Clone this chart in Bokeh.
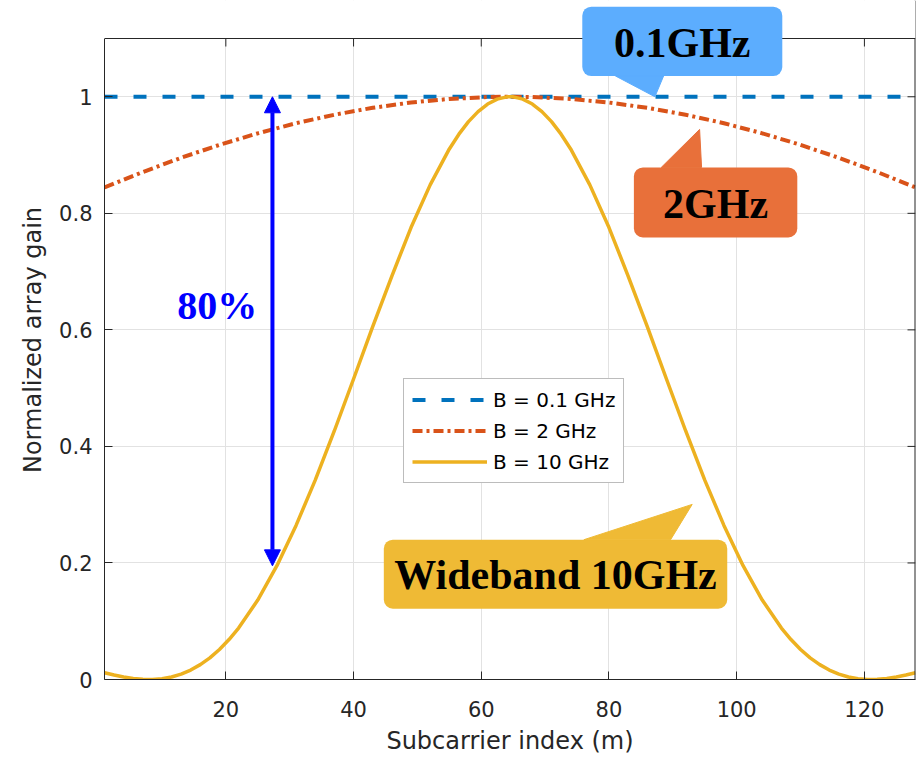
from bokeh.plotting import figure
from bokeh.models import (Range1d, FixedTicker, BoxAnnotation, PolyAnnotation,
                          Label, Arrow, NormalHead, Span)
from bokeh.embed import file_html
from bokeh.resources import INLINE

# ---------------- data ----------------
x_ticks = [20, 40, 60, 80, 100, 120]
y_ticks = [0, 0.2, 0.4, 0.6, 0.8, 1.0]
x_min, x_max = 1, 128
y_min, y_max = 0, 1.1

# B = 0.1 GHz
m_01 = [1, 128]
g_01 = [1.0, 1.0]

# B = 2 GHz
m_2 = [1, 7, 13, 19, 25, 31, 37, 43, 49, 55, 61, 64,
       65, 68, 74, 80, 86, 92, 98, 104, 110, 116, 122, 128]
g_2 = [0.8444, 0.8709, 0.8953, 0.9175, 0.9373, 0.9546, 0.9692, 0.9811, 0.9901, 0.9963, 0.9995, 1.0000,
       1.0000, 0.9995, 0.9963, 0.9901, 0.9811, 0.9692, 0.9546, 0.9373, 0.9175, 0.8953, 0.8709, 0.8444]

# B = 10 GHz
m_10 = [1, 2.5, 4, 5.5, 7, 8.5, 10, 11.5, 13, 14.5, 16, 17.5, 19, 20.5, 22,
        25, 28, 31, 34, 37, 40, 43, 46, 49, 52, 55,
        56.5, 58, 59.5, 61, 62.5, 64,
        65, 66.5, 68, 69.5, 71, 72.5, 74,
        77, 80, 83, 86, 89, 92, 95, 98, 101, 104,
        107, 108.5, 110, 111.5, 113, 114.5, 116, 117.5, 119, 120.5, 122, 123.5, 125, 126.5, 128]
g_10 = [0.0116, 0.0076, 0.0043, 0.0018, 0.0003, 0.0001, 0.0013, 0.0043, 0.0092, 0.0162, 0.0255,
        0.0372, 0.0515, 0.0685, 0.0883,
        0.1363, 0.1953, 0.2644, 0.3422, 0.4269, 0.5157, 0.6056, 0.6924, 0.7756, 0.8488, 0.9105,
        0.9358, 0.9573, 0.9745, 0.9875, 0.9959, 0.9999,
        0.9999, 0.9959, 0.9875, 0.9745, 0.9573, 0.9358, 0.9105,
        0.8488, 0.7756, 0.6924, 0.6056, 0.5157, 0.4269, 0.3422, 0.2644, 0.1953, 0.1363,
        0.0883, 0.0685, 0.0515, 0.0372, 0.0255, 0.0162, 0.0092, 0.0043, 0.0013, 0.0001, 0.0003,
        0.0018, 0.0043, 0.0076, 0.0116]

series_labels = ["B = 0.1 GHz", "B = 2 GHz", "B = 10 GHz"]

# 80% gap marker (subcarrier index, gain from / to)
gap_m = 27.3
gap_low = 0.195
gap_high = 1.0

# ---------------- layout constants ----------------
AX = "#262626"
SANS = "DejaVu Sans"
SERIF = "Liberation Serif"
FRAME_W, FRAME_H = 811, 641          # pixel size of the axes box (0..1.1)
PX_X = (x_max - x_min) / FRAME_W     # data units per pixel
PX_Y = (y_max - y_min) / FRAME_H
TOP_PAD_PX = 38                       # room above the axes box for the callout
TICK_PX = 8

p = figure(width=921, height=757, output_backend="svg", toolbar_location=None,
           x_range=Range1d(x_min, x_max),
           y_range=Range1d(y_min, y_max + TOP_PAD_PX * PX_Y),
           min_border_left=104, min_border_right=6, min_border_top=0, min_border_bottom=78,
           background_fill_color="white", border_fill_color="white")
p.outline_line_color = None

xt = FixedTicker(ticks=x_ticks)
yt = FixedTicker(ticks=y_ticks)
p.xaxis.ticker = xt
p.yaxis.ticker = yt
p.xgrid.ticker = xt
p.ygrid.ticker = yt
for g in (p.xgrid, p.ygrid):
    g.grid_line_color = "#e2e2e2"
    g.grid_line_width = 1

p.xaxis.axis_label = "Subcarrier index (m)"
p.yaxis.axis_label = "Normalized array gain"
p.yaxis.major_label_overrides = {0: "0", 1.0: "1"}
p.yaxis.bounds = (y_min, y_max)
for ax in (p.xaxis[0], p.yaxis[0]):
    ax.axis_line_color = AX
    ax.major_tick_line_color = AX
    ax.minor_tick_line_color = None
    ax.major_tick_in = TICK_PX
    ax.major_tick_out = 0
    ax.major_label_text_font = SANS
    ax.major_label_text_font_size = "21px"
    ax.major_label_text_color = AX
    ax.axis_label_text_font = SANS
    ax.axis_label_text_font_size = "24px"
    ax.axis_label_text_font_style = "normal"
    ax.axis_label_text_color = AX
p.xaxis.major_label_standoff = 21
p.xaxis.axis_label_standoff = 7
p.yaxis.major_label_standoff = 12
p.yaxis.axis_label_standoff = 9

# right edge of the box and the inward ticks on the top and right edges
p.add_layout(Span(location=x_max, dimension="height", line_color=AX, line_width=2, level="glyph"))
p.segment(x0=x_ticks, y0=[y_max] * len(x_ticks), x1=x_ticks,
          y1=[y_max - TICK_PX * PX_Y] * len(x_ticks), line_color=AX, line_width=1)
p.segment(x0=[x_max] * len(y_ticks), y0=y_ticks, x1=[x_max - TICK_PX * PX_X] * len(y_ticks),
          y1=y_ticks, line_color=AX, line_width=1)

# ---------------- curves ----------------
p.line(m_01, g_01, color="#0072BD", line_width=4, line_dash="13 16", legend_label=series_labels[0])
p.line(m_2, g_2, color="#D95319", line_width=4, line_dash="10 4 3 4", legend_label=series_labels[1])
p.line(m_10, g_10, color="#EDB120", line_width=3.5, legend_label=series_labels[2])

lg = p.legend[0]
lg.location = (299, 196)
lg.label_text_font = SANS
lg.label_text_font_size = "20px"
lg.label_text_color = "#000000"
lg.glyph_width = 75
lg.glyph_height = 25
lg.label_height = 25
lg.label_standoff = 6
lg.spacing = 6
lg.padding = 8
lg.margin = 0
lg.border_line_color = "#7a7a7a"
lg.border_line_width = 1
lg.background_fill_alpha = 1.0

# blank strip above the axes box, then its top edge
p.add_layout(BoxAnnotation(bottom=y_max, fill_color="white", fill_alpha=1.0, line_color=None,
                           level="annotation"))
p.add_layout(Span(location=y_max, dimension="width", line_color=AX, line_width=1,
                  level="annotation"))

# ---------------- annotations ----------------
p.add_layout(Arrow(x_start=gap_m, y_start=gap_high, x_end=gap_m, y_end=gap_low,
                   line_color="#0000FF", line_width=4,
                   start=NormalHead(size=16, fill_color="#0000FF", line_color="#0000FF"),
                   end=NormalHead(size=16, fill_color="#0000FF", line_color="#0000FF")))
p.add_layout(Label(x=18.65, y=0.6423, text="80%", text_font=SERIF, text_font_size="40px",
                   text_font_style="bold", text_color="#0000FF",
                   text_align="center", text_baseline="middle"))

callouts = [
    # box (left, right, bottom, top), pointer xs, ys, text pos, text, colour
    ((75.82, 107.14, 1.0356, 1.1546), [81.03, 88.55, 87.19], [1.0356, 1.0356, 1.0],
     (91.47, 1.0922), "0.1GHz", "#5CADFE"),
    ((83.90, 109.49, 0.7585, 0.8788), [88.19, 94.50, 94.19], [0.8788, 0.8788, 0.9440],
     (96.69, 0.8157), "2GHz", "#E8703A"),
    ((44.74, 98.52, 0.1214, 0.2399), [76.07, 89.65, 93.03], [0.2399, 0.2399, 0.3005],
     (71.63, 0.1786), "Wideband 10GHz", "#EFBA35"),
]
for (l, r, b, t), pxs, pys, (tx, ty), txt, col in callouts:
    p.add_layout(BoxAnnotation(left=l, right=r, bottom=b, top=t, fill_color=col, fill_alpha=1.0,
                               line_color=None, border_radius=9, level="overlay"))
    p.add_layout(PolyAnnotation(xs=pxs, ys=pys, fill_color=col, fill_alpha=1.0, line_color=col,
                                line_alpha=1.0, line_width=1, level="overlay"))
    p.add_layout(Label(x=tx, y=ty, text=txt, text_font=SERIF, text_font_size="42px",
                       text_font_style="bold", text_color="#000000",
                       text_align="center", text_baseline="middle", level="overlay"))

open("out.html", "w").write(file_html(p, INLINE))
